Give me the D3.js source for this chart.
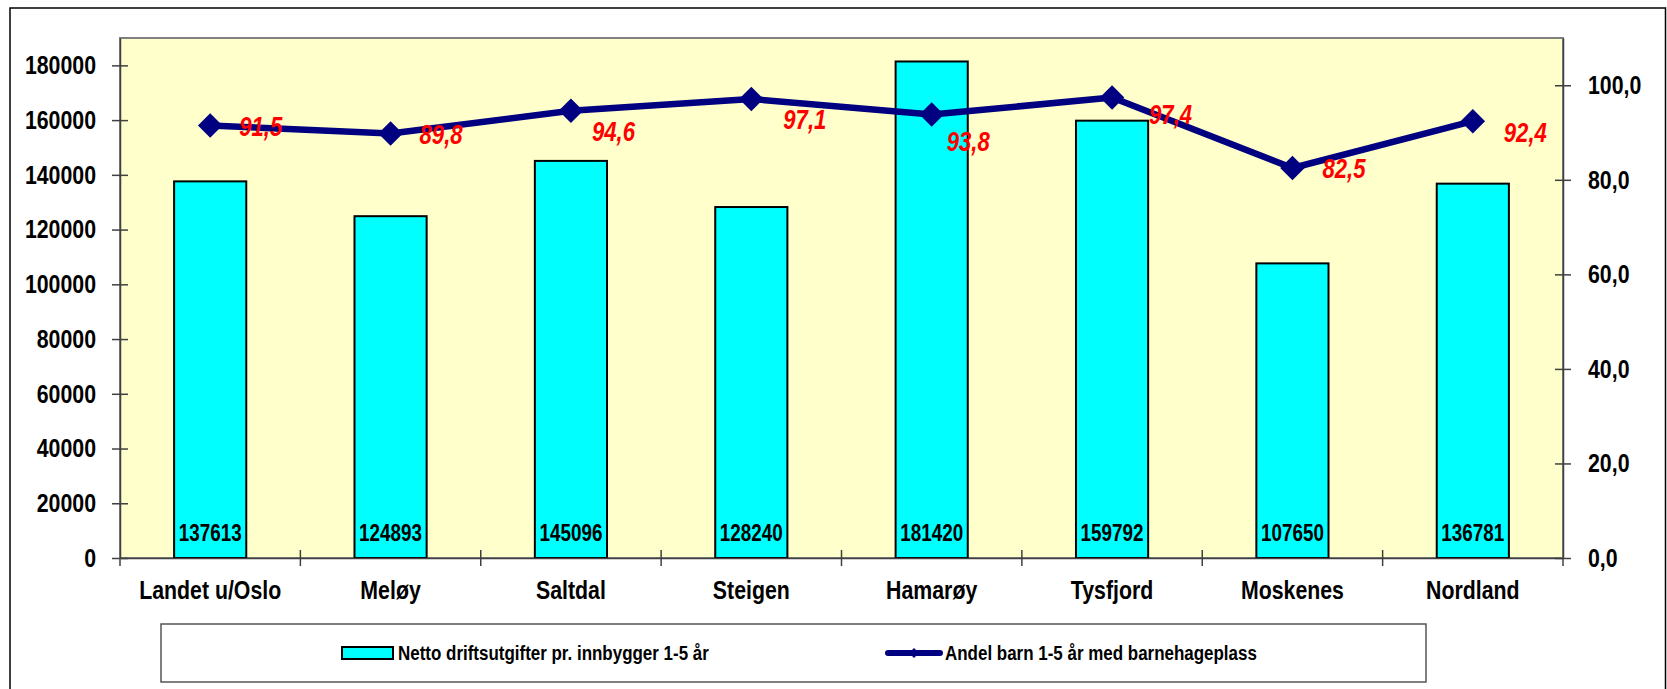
<!DOCTYPE html>
<html>
<head>
<meta charset="utf-8">
<script src="https://cdn.jsdelivr.net/npm/d3@7"></script>
<style>
  html, body { margin: 0; padding: 0; background: #fff; }
  svg { display: block; }
</style>
</head>
<body>
<script>
// ---- data ----
const categories = ["Landet u/Oslo", "Meløy", "Saltdal", "Steigen", "Hamarøy", "Tysfjord", "Moskenes", "Nordland"];
const barValues = [137613, 124893, 145096, 128240, 181420, 159792, 107650, 136781];
const lineValues = [91.5, 89.8, 94.6, 97.1, 93.8, 97.4, 82.5, 92.4];
const leftTicks = [0, 20000, 40000, 60000, 80000, 100000, 120000, 140000, 160000, 180000];
const rightTicks = [0, 20, 40, 60, 80, 100];
const barSeriesName = "Netto driftsutgifter pr. innbygger 1-5 år";
const lineSeriesName = "Andel barn 1-5 år med barnehageplass";
// manual label placement (offset from point): [dx, dy]
const labelOffsets = [[29, 1], [29, 1], [21, 21], [32, 21], [15, 27], [37, 17], [30, 1], [31, 12]];

// ---- layout ----
const W = 1667, H = 689;
const plot = { left: 120, right: 1563, top: 38, bottom: 558 };
const FONT = '"Liberation Sans", Arial, sans-serif';
const NARROW = 0.82;

// horizontally condense text (emulates a narrow font)
function condense(sel, k = NARROW) {
  sel.each(function () {
    const t = d3.select(this);
    const tx = +t.attr("x") || 0, ty = +t.attr("y") || 0;
    t.attr("x", 0).attr("y", 0).attr("transform", `translate(${tx},${ty}) scale(${k},1)`);
  });
}

const svg = d3.select("body").append("svg").attr("width", W).attr("height", H);
svg.append("rect").attr("width", W).attr("height", H).attr("fill", "#fff");

// outer frame
svg.append("rect").attr("x", 10).attr("y", 8).attr("width", 1655.5).attr("height", 700)
  .attr("fill", "none").attr("stroke", "#000").attr("stroke-width", 1.5);

const x = d3.scaleBand().domain(categories).range([plot.left, plot.right]).paddingInner(0.6).paddingOuter(0.3);
const yL = d3.scaleLinear().domain([0, 190000]).range([plot.bottom, plot.top]);
const yR = d3.scaleLinear().domain([0, 110]).range([plot.bottom, plot.top]);

// plot background
svg.append("rect").attr("x", plot.left).attr("y", plot.top)
  .attr("width", plot.right - plot.left).attr("height", plot.bottom - plot.top)
  .attr("fill", "#FFFFCC").attr("stroke", "#808080").attr("stroke-width", 2);

// bars
svg.append("g").selectAll("rect").data(barValues).join("rect")
  .attr("x", (d, i) => x(categories[i]))
  .attr("y", d => yL(d))
  .attr("width", x.bandwidth())
  .attr("height", d => yL(0) - yL(d))
  .attr("fill", "#00FFFF").attr("stroke", "#000").attr("stroke-width", 2);

// bar value labels
svg.append("g").selectAll("text").data(barValues).join("text")
  .attr("x", (d, i) => x(categories[i]) + x.bandwidth() / 2)
  .attr("y", yL(0) - 17)
  .attr("text-anchor", "middle")
  .attr("font-family", FONT).attr("font-weight", "bold")
  .attr("font-size", 23)
  .attr("fill", "#000")
  .text(d => d)
  .call(condense);

// left axis
const axL = svg.append("g").attr("transform", `translate(${plot.left},0)`)
  .call(d3.axisLeft(yL).tickValues(leftTicks).tickFormat(d3.format("d")).tickSizeInner(8).tickSizeOuter(0).tickPadding(16));
axL.select(".domain").attr("stroke", "#404040").attr("stroke-width", 1.5);
axL.selectAll(".tick line").attr("x1", 8).attr("stroke", "#404040").attr("stroke-width", 1.5);
axL.selectAll(".tick text").attr("font-family", FONT).attr("font-weight", "bold").attr("font-size", 26).attr("fill", "#000").call(condense);

// right axis
const fmtR = d => d3.format(".1f")(d).replace(".", ",");
const axR = svg.append("g").attr("transform", `translate(${plot.right},0)`)
  .call(d3.axisRight(yR).tickValues(rightTicks).tickFormat(fmtR).tickSizeInner(8).tickSizeOuter(0).tickPadding(17));
axR.select(".domain").attr("stroke", "#404040").attr("stroke-width", 1.5);
axR.selectAll(".tick line").attr("x1", -8).attr("stroke", "#404040").attr("stroke-width", 1.5);
axR.selectAll(".tick text").attr("font-family", FONT).attr("font-weight", "bold").attr("font-size", 26).attr("fill", "#000").call(condense);

// bottom axis (labels), separators at category boundaries
const axB = svg.append("g").attr("transform", `translate(0,${plot.bottom})`)
  .call(d3.axisBottom(x).tickSize(0).tickPadding(23));
axB.select(".domain").attr("stroke", "#404040").attr("stroke-width", 1.5);
axB.selectAll(".tick text").attr("font-family", FONT).attr("font-weight", "bold").attr("font-size", 26).attr("fill", "#000").call(condense);

const boundaries = d3.range(categories.length + 1).map(k => x.range()[0] + k * x.step());
svg.append("g").selectAll("line").data(boundaries).join("line")
  .attr("x1", d => d).attr("x2", d => d)
  .attr("y1", (d, k) => (k === 0 || k === categories.length) ? plot.bottom : plot.bottom - 8)
  .attr("y2", plot.bottom + 8)
  .attr("stroke", "#404040").attr("stroke-width", 1.5);

// line series
const cx = i => x(categories[i]) + x.bandwidth() / 2;
const line = d3.line().x((d, i) => cx(i)).y(d => yR(d));
svg.append("path").datum(lineValues).attr("d", line)
  .attr("fill", "none").attr("stroke", "#000080").attr("stroke-width", 6.5).attr("stroke-linejoin", "round");

const diamond = d3.symbol(d3.symbolSquare, 300);
svg.append("g").selectAll("path").data(lineValues).join("path")
  .attr("d", diamond)
  .attr("transform", (d, i) => `translate(${cx(i)},${yR(d)}) rotate(45)`)
  .attr("fill", "#000080");

// line labels
svg.append("g").selectAll("text").data(lineValues).join("text")
  .attr("x", (d, i) => cx(i) + labelOffsets[i][0])
  .attr("y", (d, i) => yR(d) + labelOffsets[i][1])
  .attr("dominant-baseline", "central")
  .attr("font-family", FONT).attr("font-weight", "bold")
  .attr("font-size", 27).attr("font-style", "italic")
  .attr("fill", "#FF0000")
  .text(d => fmtR(d))
  .call(condense);

// legend
const lg = svg.append("g");
lg.append("rect").attr("x", 161).attr("y", 624).attr("width", 1265).attr("height", 58)
  .attr("fill", "#fff").attr("stroke", "#555").attr("stroke-width", 1.5);
lg.append("rect").attr("x", 342).attr("y", 647).attr("width", 51).attr("height", 12)
  .attr("fill", "#00FFFF").attr("stroke", "#000").attr("stroke-width", 2);
lg.append("text").attr("x", 398).attr("y", 653)
  .attr("dominant-baseline", "central")
  .attr("font-family", FONT).attr("font-weight", "bold").attr("font-size", 20.7)
  .text(barSeriesName).call(condense);
lg.append("line").attr("x1", 888).attr("x2", 940).attr("y1", 653).attr("y2", 653)
  .attr("stroke", "#000080").attr("stroke-width", 6).attr("stroke-linecap", "round");
lg.append("path").attr("d", d3.symbol(d3.symbolSquare, 50))
  .attr("transform", "translate(914,653) rotate(45)").attr("fill", "#000080");
lg.append("text").attr("x", 945).attr("y", 653)
  .attr("dominant-baseline", "central")
  .attr("font-family", FONT).attr("font-weight", "bold").attr("font-size", 20.7)
  .text(lineSeriesName).call(condense);
</script>
</body>
</html>
